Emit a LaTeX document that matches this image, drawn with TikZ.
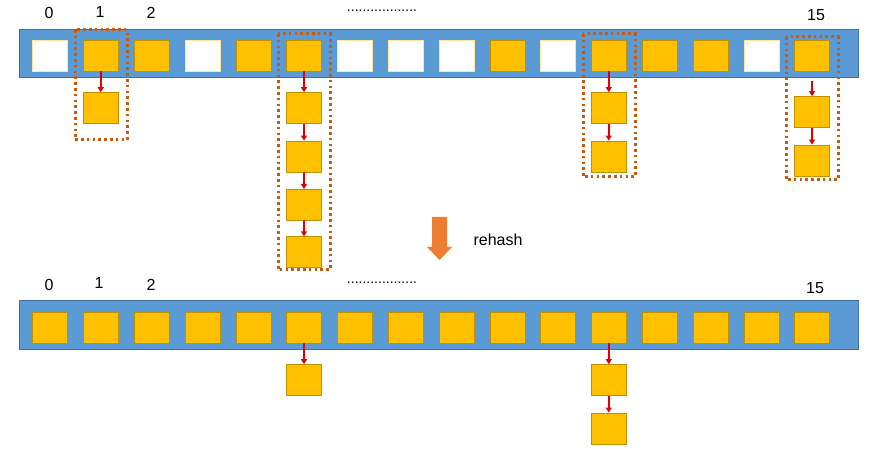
\documentclass[tikz,border=0pt]{standalone}
\usepackage{fontspec}
\setmainfont{Liberation Sans}
\usetikzlibrary{positioning,arrows.meta}
\definecolor{barblue}{HTML}{5B9BD5}
\definecolor{barline}{HTML}{41719C}
\definecolor{slotyellow}{HTML}{FFC000}
\definecolor{slotline}{HTML}{BF9000}
\definecolor{emptyline}{HTML}{FFE699}
\definecolor{groupline}{HTML}{C55A11}
\definecolor{rehashorange}{HTML}{ED7D31}
\definecolor{linkred}{HTML}{E00000}

\begin{document}
\begin{tikzpicture}[x=1pt, y=-1pt, font=\fontsize{16}{19}\selectfont,
    bucket/.style = {draw=slotline, fill=slotyellow, minimum width=35pt, minimum height=31pt, inner sep=0pt},
    emptybucket/.style = {bucket, draw=emptyline, fill=white},
    link/.style = {draw=linkred, line width=1.5pt, -{Triangle[length=5pt,width=6pt]}},
    hashtable/.style = {draw=barline, fill=barblue, line width=0.8pt},
    chaingroup/.style = {draw=groupline, line width=3pt, dash pattern=on 2.6pt off 3.2pt},
    dotline/.style = {anchor=base, inner sep=0pt, font=\fontsize{14}{16}\selectfont}]
      \useasboundingbox (0,0) rectangle (876,449);
      % before rehash
      \draw[hashtable] (19,29) rectangle (858,77);
      \foreach \i/\s in {0/emptybucket,1/bucket,2/bucket,3/emptybucket,4/bucket,5/bucket,6/emptybucket,7/emptybucket,
          8/emptybucket,9/bucket,10/emptybucket,11/bucket,12/bucket,13/bucket,14/emptybucket,15/bucket}
        \node[\s] (t\i) at (50+\i*50.8, 55.5) {};
      \node (top0) at (49,13) {0};
      \node (top1) at (100,12) {1};
      \node (top2) at (151,13) {2};
      \node (top15) at (816,15) {15};
      \node[dotline] (topdots) at (382,11.5) {..................};
      \node[bucket, below=21pt of t1] (t1a) {};
      \node[bucket, below=21pt of t5] (t5a) {};
      \node[bucket, below=17pt of t5a] (t5b) {};
      \node[bucket, below=17pt of t5b] (t5c) {};
      \node[bucket, below=16pt of t5c] (t5d) {};
      \node[bucket, below=21pt of t11] (t11a) {};
      \node[bucket, below=17pt of t11a] (t11b) {};
      \node[bucket, below=25pt of t15] (t15a) {};
      \node[bucket, below=17pt of t15a] (t15b) {};
      \draw[link] (t1) -- (t1a);
      \draw[link] (t5) -- (t5a);
      \draw[link] (t5a) -- (t5b);
      \draw[link] (t5b) -- (t5c);
      \draw[link] (t5c) -- (t5d);
      \draw[link] (t11) -- (t11a);
      \draw[link] (t11a) -- (t11b);
      \draw[link] ([yshift=-10pt]t15.south) -- (t15a);
      \draw[link] (t15a) -- (t15b);
      \draw[chaingroup] (75,30) rectangle (127,140);
      \draw[chaingroup] (278,34) rectangle (330,270);
      \draw[chaingroup] (583,34) rectangle (635,177);
      \draw[chaingroup] (786,37) rectangle (838,180);
      % rehash
      \fill[rehashorange] (432,217) -- (447,217) -- (447,247) -- (452,247) -- (439.5,260) -- (427,247) -- (432,247) -- cycle;
      \node[anchor=west] (rehash) at (470,240) {rehash};
      % after rehash
      \draw[hashtable] (19,300) rectangle (858,349);
      \foreach \i in {0,...,15}
        \node[bucket] (b\i) at (50+\i*50.8, 327.5) {};
      \node (bot0) at (49,285) {0};
      \node (bot1) at (99,283) {1};
      \node (bot2) at (151,285) {2};
      \node (bot15) at (815,288) {15};
      \node[dotline] (botdots) at (382,283.5) {..................};
      \node[bucket, below=21pt of b5] (b5a) {};
      \node[bucket, below=21pt of b11] (b11a) {};
      \node[bucket, below=17pt of b11a] (b11b) {};
      \draw[link] (b5) -- (b5a);
      \draw[link] (b11) -- (b11a);
      \draw[link] (b11a) -- (b11b);
    \end{tikzpicture}
\end{document}
